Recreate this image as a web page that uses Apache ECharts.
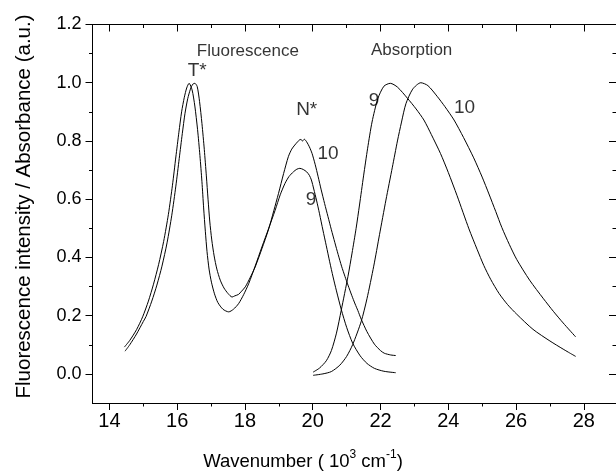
<!DOCTYPE html>
<html>
<head>
<meta charset="utf-8">
<script src="https://cdn.jsdelivr.net/npm/echarts@6/dist/echarts.min.js"></script>
<style>html,body{margin:0;padding:0;background:#fff;}#c{width:616px;height:475px;}</style>
</head>
<body>
<div id="c"></div>
<script>
// ---- data ----
var fluor9 = [[14.44,0.092],[14.6,0.115],[14.8,0.152],[14.98,0.196],[15.15,0.25],[15.3,0.308],[15.45,0.375],[15.6,0.455],[15.74,0.548],[15.86,0.648],[15.96,0.745],[16.05,0.83],[16.13,0.9],[16.21,0.95],[16.28,0.982],[16.35,0.998],[16.44,0.975],[16.52,0.92],[16.6,0.84],[16.67,0.75],[16.73,0.66],[16.78,0.57],[16.83,0.49],[16.88,0.42],[16.94,0.36],[17.01,0.315],[17.1,0.275],[17.2,0.245],[17.35,0.222],[17.52,0.213],[17.66,0.222],[17.81,0.241],[17.96,0.272],[18.11,0.31],[18.3,0.37],[18.5,0.436],[18.7,0.50],[18.89,0.562],[19.04,0.615],[19.18,0.654],[19.3,0.678],[19.43,0.694],[19.53,0.703],[19.62,0.706],[19.72,0.702],[19.82,0.694],[19.9,0.682],[19.96,0.666],[20.03,0.635],[20.11,0.597],[20.2,0.55],[20.3,0.494],[20.4,0.44],[20.5,0.385],[20.6,0.333],[20.7,0.285],[20.84,0.222],[21.0,0.16],[21.18,0.105],[21.4,0.062],[21.6,0.036],[21.82,0.019],[22.1,0.009],[22.45,0.004]];
var fluor10 = [[14.46,0.078],[14.6,0.1],[14.8,0.137],[15.0,0.18],[15.08,0.197],[15.25,0.25],[15.4,0.305],[15.55,0.37],[15.7,0.45],[15.84,0.545],[15.96,0.645],[16.06,0.74],[16.15,0.825],[16.23,0.895],[16.31,0.945],[16.39,0.978],[16.46,0.995],[16.52,0.998],[16.59,0.987],[16.66,0.935],[16.73,0.86],[16.8,0.77],[16.86,0.68],[16.91,0.6],[16.96,0.525],[17.02,0.46],[17.09,0.405],[17.17,0.36],[17.27,0.322],[17.38,0.295],[17.5,0.276],[17.62,0.264],[17.7,0.268],[17.81,0.273],[17.9,0.284],[18.01,0.299],[18.15,0.33],[18.3,0.367],[18.5,0.43],[18.69,0.494],[18.85,0.56],[18.99,0.62],[19.14,0.688],[19.28,0.746],[19.38,0.772],[19.47,0.786],[19.56,0.798],[19.6,0.803],[19.65,0.805],[19.7,0.80],[19.75,0.806],[19.82,0.797],[19.9,0.78],[19.98,0.757],[20.07,0.72],[20.16,0.677],[20.25,0.632],[20.35,0.585],[20.45,0.54],[20.55,0.495],[20.65,0.452],[20.75,0.41],[20.85,0.37],[20.95,0.335],[21.04,0.305],[21.15,0.27],[21.25,0.24],[21.33,0.218],[21.43,0.188],[21.6,0.145],[21.82,0.102],[22.0,0.08],[22.11,0.071],[22.3,0.065],[22.45,0.063]];
var absorb9 = [[20.01,0.006],[20.2,0.02],[20.4,0.045],[20.55,0.08],[20.7,0.14],[20.84,0.218],[21.04,0.335],[21.16,0.415],[21.28,0.5],[21.38,0.58],[21.5,0.68],[21.62,0.775],[21.75,0.865],[21.92,0.945],[22.1,0.988],[22.29,0.998],[22.5,0.985],[22.8,0.946],[23.05,0.91],[23.28,0.872],[23.5,0.822],[23.77,0.757],[24.0,0.692],[24.26,0.612],[24.61,0.498],[24.85,0.428],[25.05,0.372],[25.25,0.325],[25.5,0.276],[25.75,0.238],[26.02,0.205],[26.5,0.153],[27.0,0.113],[27.39,0.085],[27.55,0.074],[27.76,0.06]];
var absorb10 = [[20.01,-0.005],[20.3,0.0],[20.55,0.008],[20.8,0.03],[21.0,0.06],[21.18,0.101],[21.43,0.18],[21.6,0.258],[21.8,0.37],[21.97,0.478],[22.16,0.597],[22.35,0.71],[22.5,0.80],[22.62,0.865],[22.75,0.928],[22.95,0.978],[23.19,1.0],[23.4,0.99],[23.68,0.952],[23.9,0.918],[24.17,0.872],[24.45,0.812],[24.75,0.742],[25.0,0.676],[25.2,0.618],[25.4,0.558],[25.58,0.503],[25.8,0.445],[26.02,0.393],[26.4,0.322],[26.81,0.258],[27.1,0.215],[27.39,0.175],[27.76,0.127]];

var xMajorTicks = [14, 16, 18, 20, 22, 24, 26, 28];
var xMinorTicks = [15, 17, 19, 21, 23, 25, 27];
var yMajorTicks = [0.0, 0.2, 0.4, 0.6, 0.8, 1.0, 1.2];
var yMinorTicks = [0.1, 0.3, 0.5, 0.7, 0.9, 1.1];

var annotationTexts = ['Fluorescence', 'Absorption', 'T*', 'N*', '10', '9', '9', '10'];
var annotationAnchors = [[16.58,1.109],[21.72,1.112],[16.31,1.041],[19.51,0.906],[20.14,0.755],[19.79,0.599],[21.65,0.938],[24.17,0.915]];
var annotationBig = [false, false, true, true, true, true, true, true];

var xTitle = '{a|Wavenumber ( 10}{s|3}{a| cm}{s|-1}{a|)}';
var yTitle = 'Fluorescence intensity / Absorbance (a.u.)';

// ---- chart ----
var FONT = '"Liberation Sans", Arial, Helvetica, sans-serif';
var xMin = 13.5, xMax = 28.95, yMin = -0.1, yMax = 1.2;
var black = '#000';

function xAx(pos, ticks, len, inside, labels) {
  return {
    type: 'value', position: pos, min: xMin, max: xMax,
    axisLine: { show: true, onZero: false, lineStyle: { color: black, width: 1 } },
    axisTick: { show: true, inside: inside, length: len, customValues: ticks, lineStyle: { color: black, width: 1 } },
    axisLabel: labels ? { show: true, customValues: ticks, color: black, fontFamily: FONT, fontSize: 20, margin: 8 } : { show: false },
    splitLine: { show: false }
  };
}
function yAx(pos, ticks, len, inside, labels) {
  return {
    type: 'value', position: pos, min: yMin, max: yMax,
    axisLine: { show: true, onZero: false, lineStyle: { color: black, width: 1 } },
    axisTick: { show: true, inside: inside, length: len, customValues: ticks, lineStyle: { color: black, width: 1 } },
    axisLabel: labels ? { show: true, customValues: ticks, color: black, fontFamily: FONT, fontSize: 18, margin: 11,
      formatter: function (v) { return v.toFixed(1); } } : { show: false },
    splitLine: { show: false }
  };
}

function lineSeries(name, data) {
  return {
    name: name, type: 'line', data: data, xAxisIndex: 0, yAxisIndex: 0,
    showSymbol: false, symbol: 'none', smooth: 0.25, clip: false,
    lineStyle: { color: black, width: 1 }, animation: false, z: 3
  };
}

var annData = annotationAnchors.map(function (p, i) {
  return { value: [p[0], p[1]], name: annotationTexts[i],
    label: { fontSize: annotationBig[i] ? 19 : 17 } };
});

var chart = echarts.init(document.getElementById('c'), null, { renderer: 'canvas' });
chart.setOption({
  animation: false,
  backgroundColor: '#fff',
  grid: { left: 92.5, top: 24.5, width: (xMax - xMin) * 34.15, height: 378.5, containLabel: false },
  xAxis: [
    xAx('bottom', xMajorTicks, 7, false, true),
    xAx('bottom', xMinorTicks, 3.5, false, false),
    xAx('top', xMajorTicks, 7, true, false),
    xAx('top', xMinorTicks, 3.5, true, false)
  ],
  yAxis: [
    yAx('left', yMajorTicks, 7, false, true),
    yAx('left', yMinorTicks, 3.5, false, false),
    yAx('right', yMajorTicks, 7, true, false),
    yAx('right', yMinorTicks, 3.5, true, false)
  ],
  series: [
    lineSeries('Fluorescence 9', fluor9),
    lineSeries('Fluorescence 10', fluor10),
    lineSeries('Absorption 9', absorb9),
    lineSeries('Absorption 10', absorb10),
    {
      type: 'scatter', data: annData, symbolSize: 0, silent: true,
      label: { show: true, position: [0, 0], align: 'left', verticalAlign: 'middle',
        formatter: function (p) { return p.name; }, color: black, fontFamily: FONT },
      z: 5
    }
  ],
  graphic: [
    { type: 'text', x: 24, y: 206.5, rotation: Math.PI / 2, silent: true,
      style: { text: yTitle, x: 0, y: 0, align: 'center', verticalAlign: 'middle', fill: black,
        font: '20.5px ' + FONT } },
    { type: 'text', x: 303, y: 460, silent: true,
      style: { text: xTitle, x: 0, y: 0, align: 'center', verticalAlign: 'middle', fill: black,
        rich: {
          a: { fontSize: 18.5, fontFamily: FONT, fill: black, color: black, lineHeight: 22, verticalAlign: 'bottom' },
          s: { fontSize: 12, fontFamily: FONT, fill: black, color: black, lineHeight: 22, verticalAlign: 'top' }
        } } }
  ]
});
</script>
</body>
</html>
